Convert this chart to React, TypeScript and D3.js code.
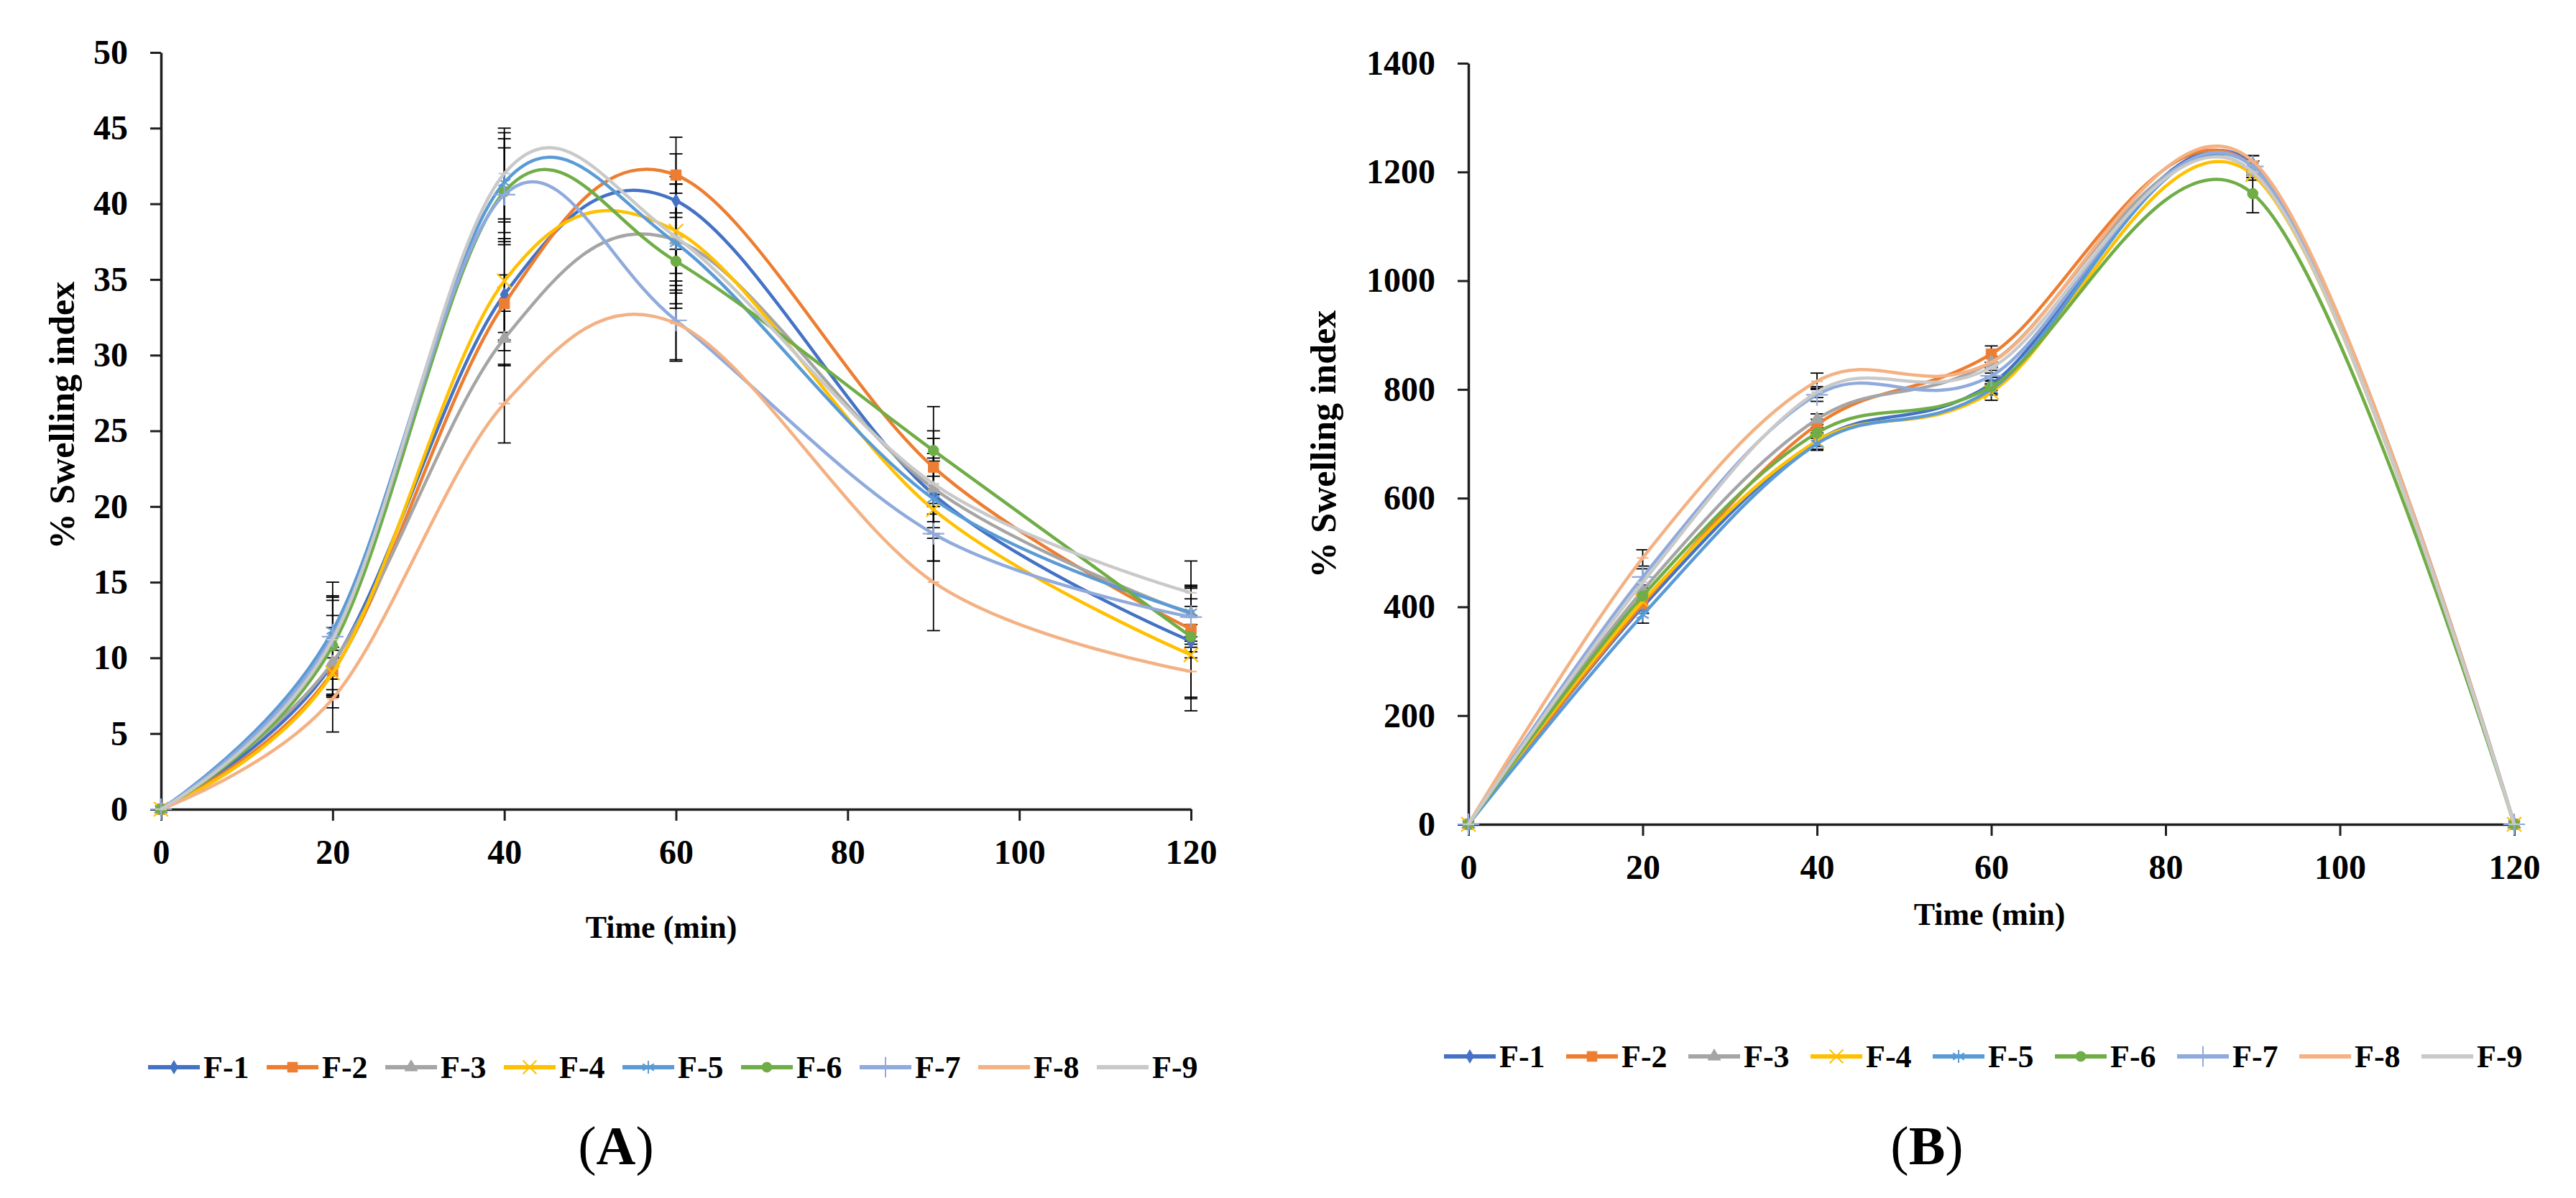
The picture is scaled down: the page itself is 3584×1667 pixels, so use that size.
import { useRef, useEffect } from 'react';
import * as d3 from 'd3';

// sampling times (min)
const time_points = [0, 20, 40, 60, 90, 120];
const series_names = ["F-1", "F-2", "F-3", "F-4", "F-5", "F-6", "F-7", "F-8", "F-9"];

// panel A: % swelling index, one row per formulation
const swelling_a = [
    [0, 9.6, 34.0, 40.2, 20.8, 11.1],
    [0, 9.1, 33.4, 41.9, 22.6, 11.9],
    [0, 9.7, 31.1, 37.6, 21.2, 12.9],
    [0, 9.0, 34.9, 38.2, 19.8, 10.2],
    [0, 11.8, 41.4, 37.4, 20.5, 13.0],
    [0, 10.8, 40.8, 36.2, 23.7, 11.4],
    [0, 11.4, 40.6, 32.3, 18.2, 12.7],
    [0, 7.3, 26.8, 32.1, 15.0, 9.1],
    [0, 11.2, 42.0, 37.8, 21.5, 14.3],
];
const error_a = [
    [0, 4.5, 3.7, 1.1, 2.2, 3.7],
    [0, 1.6, 1.9, 2.5, 2.4, 1.5],
    [0, 2.3, 1.8, 4.2, 3.3, 1.8],
    [0, 1.5, 3.9, 5.1, 3.4, 3.7],
    [0, 3.2, 3.3, 3.3, 1.5, 1.6],
    [0, 3.2, 3.5, 0.8, 2.9, 1.4],
    [0, 1.4, 3.1, 2.6, 1.8, 2.0],
    [0, 0.6, 2.6, 2.5, 3.2, 1.8],
    [0, 2.6, 3.0, 3.5, 2.0, 2.1],
];
const y_ticks_a = [0, 5, 10, 15, 20, 25, 30, 35, 40, 45, 50];

// panel B
const swelling_b = [
    [0, 400, 705, 810, 1215, 0],
    [0, 405, 735, 865, 1210, 0],
    [0, 430, 745, 850, 1200, 0],
    [0, 410, 705, 795, 1195, 0],
    [0, 385, 700, 800, 1210, 0],
    [0, 420, 720, 805, 1160, 0],
    [0, 455, 790, 825, 1210, 0],
    [0, 490, 815, 850, 1220, 0],
    [0, 445, 795, 840, 1200, 0],
];
const error_b = [
    [0, 12, 15, 12, 15, 0],
    [0, 10, 10, 15, 10, 0],
    [0, 10, 10, 10, 10, 0],
    [0, 10, 10, 15, 10, 0],
    [0, 15, 12, 10, 10, 0],
    [0, 10, 10, 12, 35, 0],
    [0, 15, 12, 10, 10, 0],
    [0, 15, 15, 10, 10, 0],
    [0, 10, 10, 10, 10, 0],
];
const y_ticks_b = [0, 200, 400, 600, 800, 1000, 1200, 1400];
const x_ticks = [0, 20, 40, 60, 80, 100, 120];

const colors = ["#4472C4", "#ED7D31", "#A5A5A5", "#FFC000", "#5B9BD5", "#70AD47", "#8FAADC", "#F4B183", "#C9C9C9"];
const markers = ["diamond", "square", "triangle", "times", "asterisk", "circle", "plus", "dash", "dash"];
const font = "'Liberation Serif', 'Times New Roman', serif";

function marker_path(kind: string, scale = 1) {
    switch (kind) {
        case "diamond": return { d: d3.symbol(d3.symbolDiamond, 110 * scale)(), fill: true };
        case "square": return { d: d3.symbol(d3.symbolSquare, 210 * scale)(), fill: true };
        case "triangle": return { d: d3.symbol(d3.symbolTriangle, 150 * scale)(), fill: true };
        case "circle": return { d: d3.symbol(d3.symbolCircle, 170 * scale)(), fill: true };
        case "times": return { d: d3.symbol(d3.symbolTimes, 260 * scale)(), fill: false };
        case "asterisk": return { d: d3.symbol(d3.symbolAsterisk, 260 * scale)(), fill: false };
        case "plus": return { d: d3.symbol(d3.symbolPlus, 300 * scale)(), fill: false };
        default: return { d: "M-8,0H8", fill: false };
    }
}

interface Panel {
    values: number[][];
    errors: number[][];
    y_ticks: number[];
    x_range: [number, number];
    y_range: [number, number];
    y_title_pos: [number, number];
    x_title_pos: [number, number];
    legend_pos: [number, number];
    legend_pitch: number;
    label_pos: [number, number];
    label: string;
}

function draw_panel(svg: d3.Selection<SVGSVGElement, unknown, null, undefined>, p: Panel) {
    const x = d3.scaleLinear().domain([0, 120]).range(p.x_range);
    const y = d3.scaleLinear().domain([0, p.y_ticks[p.y_ticks.length - 1]]).range(p.y_range);
    const g = svg.append("g");

    const y_axis = g.append("g")
        .attr("transform", `translate(${p.x_range[0]},0)`)
        .call(d3.axisLeft(y).tickValues(p.y_ticks).tickSize(15).tickSizeOuter(0).tickPadding(31).tickFormat(d3.format("d")));
    const x_axis = g.append("g")
        .attr("transform", `translate(0,${p.y_range[0]})`)
        .call(d3.axisBottom(x).tickValues(x_ticks).tickSize(16).tickSizeOuter(0).tickPadding(26).tickFormat(d3.format("d")));
    [y_axis, x_axis].forEach((a) => {
        a.select(".domain").attr("stroke", "#1f1f1f").attr("stroke-width", 3.5);
        a.selectAll(".tick line").attr("stroke", "#1f1f1f").attr("stroke-width", 3);
        a.selectAll(".tick text")
            .attr("fill", "#000")
            .style("font-family", font)
            .style("font-size", "48px")
            .style("font-weight", "bold");
    });

    const line = d3.line<number>()
        .x((d, i) => x(time_points[i]))
        .y((d) => y(d))
        .curve(d3.curveCardinal.tension(0));

    // error bars under the lines
    const bars = g.append("g").attr("stroke", "#000").attr("stroke-width", 1.8);
    p.values.forEach((row, s) => {
        row.forEach((v, i) => {
            const e = p.errors[s][i];
            if (!e) return;
            const cx = x(time_points[i]);
            bars.append("line").attr("x1", cx).attr("x2", cx).attr("y1", y(v - e)).attr("y2", y(v + e));
            [v - e, v + e].forEach((t) => {
                bars.append("line").attr("x1", cx - 9).attr("x2", cx + 9).attr("y1", y(t)).attr("y2", y(t));
            });
        });
    });

    p.values.forEach((row, s) => {
        const sg = g.append("g");
        sg.append("path")
            .attr("d", line(row))
            .attr("fill", "none")
            .attr("stroke", colors[s])
            .attr("stroke-width", 4.5);
        const m = marker_path(markers[s]);
        sg.selectAll("path.mk")
            .data(row)
            .enter()
            .append("path")
                .attr("class", "mk")
                .attr("transform", (d, i) => `translate(${x(time_points[i])},${y(d)})`)
                .attr("d", m.d)
                .attr("fill", m.fill ? colors[s] : "none")
                .attr("stroke", colors[s])
                .attr("stroke-width", m.fill ? 1 : 2.2);
    });

    // axis titles
    g.append("text")
        .attr("transform", `translate(${p.y_title_pos[0]},${p.y_title_pos[1]}) rotate(-90)`)
        .attr("text-anchor", "middle")
        .attr("dy", "0.35em")
        .style("font-family", font)
        .style("font-size", "50px")
        .style("font-weight", "bold")
        .text("% Swelling index");
    g.append("text")
        .attr("x", p.x_title_pos[0])
        .attr("y", p.x_title_pos[1])
        .attr("text-anchor", "middle")
        .attr("dy", "0.33em")
        .style("font-family", font)
        .style("font-size", "44px")
        .style("font-weight", "bold")
        .text("Time (min)");

    // legend
    const legend = g.append("g").attr("transform", `translate(${p.legend_pos[0]},${p.legend_pos[1]})`);
    series_names.forEach((name, s) => {
        const item = legend.append("g").attr("transform", `translate(${s * p.legend_pitch},0)`);
        item.append("line")
            .attr("x1", 0).attr("x2", 72).attr("y1", 0).attr("y2", 0)
            .attr("stroke", colors[s]).attr("stroke-width", 6);
        const m = marker_path(markers[s], 0.9);
        if (markers[s] !== "dash") {
            item.append("path")
                .attr("transform", "translate(36,0)")
                .attr("d", m.d)
                .attr("fill", m.fill ? colors[s] : "none")
                .attr("stroke", colors[s])
                .attr("stroke-width", m.fill ? 1 : 2);
        }
        item.append("text")
            .attr("x", 77)
            .attr("y", 15)
            .style("font-family", font)
            .style("font-size", "44px")
            .style("font-weight", "bold")
            .text(name);
    });

    // panel label
    const lab = g.append("text")
        .attr("x", p.label_pos[0])
        .attr("y", p.label_pos[1])
        .attr("text-anchor", "middle")
        .style("font-family", font)
        .style("font-size", "76px");
    lab.append("tspan").text("(");
    lab.append("tspan").style("font-weight", "bold").text(p.label);
    lab.append("tspan").text(")");
}

export default function App() {
    const ref = useRef(null);

    useEffect(() => {
        document.body.style.margin = "0";
        const svg = d3.select(ref.current)
            .append("svg")
                .attr("width", 3584)
                .attr("height", 1667)
                .style("display", "block")
                .style("background", "#fff");

        draw_panel(svg, {
            values: swelling_a,
            errors: error_a,
            y_ticks: y_ticks_a,
            x_range: [224, 1657],
            y_range: [1126, 73],
            y_title_pos: [85, 578],
            x_title_pos: [920, 1290],
            legend_pos: [206, 1485],
            legend_pitch: 165,
            label_pos: [857, 1620],
            label: "A",
        });
        draw_panel(svg, {
            values: swelling_b,
            errors: error_b,
            y_ticks: y_ticks_b,
            x_range: [2043, 3498],
            y_range: [1147, 88],
            y_title_pos: [1840, 618],
            x_title_pos: [2768, 1272],
            legend_pos: [2009, 1470],
            legend_pitch: 170,
            label_pos: [2681, 1620],
            label: "B",
        });

        return () => {
            d3.select(ref.current).selectAll("*").remove();
        };
    }, [ref]);

    return (
        <div ref={ref} />
    );
}
